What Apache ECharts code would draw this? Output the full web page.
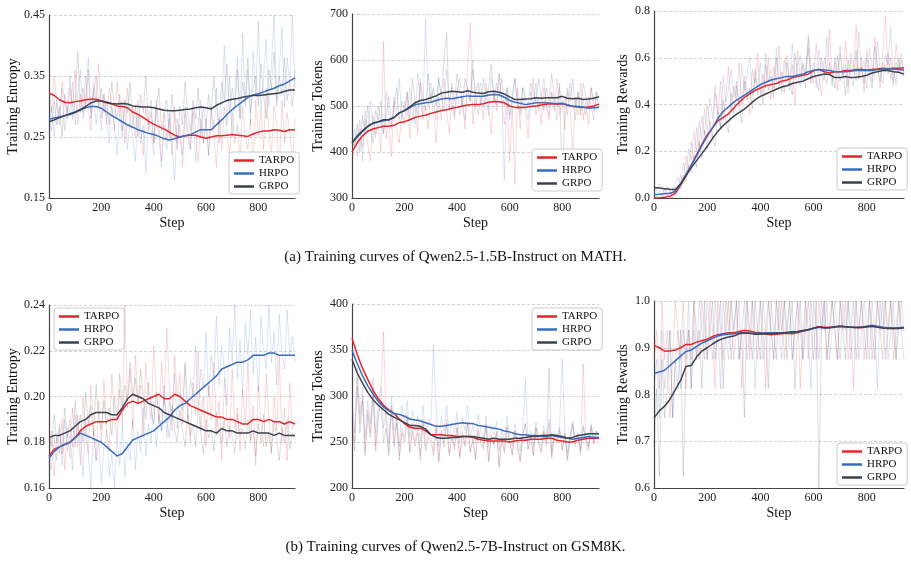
<!DOCTYPE html>
<html>
<head>
<meta charset="utf-8">
<script src="https://cdn.jsdelivr.net/npm/echarts@6/dist/echarts.min.js"></script>
<style>
  html, body { margin: 0; padding: 0; background: #fff; }
  #chart { width: 911px; height: 561px; }
</style>
</head>
<body>
<div id="chart"></div>
<script>
// step axis: smoothed curves every 20 steps, raw logs every 10 steps
const smoothSteps = Array.from({ length: 48 }, (_, i) => i * 20);
const rawSteps = Array.from({ length: 95 }, (_, i) => i * 10);
const methods = ["TARPO", "HRPO", "GRPO"];
const xTicks = [0, 200, 400, 600, 800];

// (a) Qwen2.5-1.5B-Instruct on MATH — entropy
const mathEntropyTarpo = [0.322,0.318,0.311,0.307,0.306,0.308,0.309,0.311,0.312,0.312,0.309,0.306,0.304,0.301,0.300,0.298,0.291,0.287,0.282,0.276,0.271,0.267,0.263,0.258,0.253,0.250,0.252,0.253,0.253,0.250,0.248,0.250,0.252,0.252,0.253,0.254,0.253,0.252,0.251,0.255,0.258,0.260,0.260,0.262,0.261,0.259,0.262,0.262];
const mathEntropyHrpo = [0.279,0.281,0.283,0.285,0.287,0.290,0.294,0.298,0.300,0.300,0.297,0.291,0.285,0.280,0.275,0.270,0.266,0.262,0.259,0.256,0.254,0.251,0.247,0.245,0.247,0.250,0.252,0.254,0.258,0.262,0.262,0.262,0.270,0.278,0.287,0.295,0.302,0.308,0.315,0.319,0.321,0.324,0.327,0.330,0.334,0.337,0.342,0.347];
const mathEntropyGrpo = [0.275,0.278,0.282,0.285,0.288,0.291,0.295,0.300,0.306,0.309,0.309,0.307,0.305,0.304,0.305,0.304,0.301,0.300,0.299,0.299,0.298,0.296,0.294,0.293,0.293,0.294,0.295,0.296,0.298,0.299,0.298,0.296,0.302,0.306,0.310,0.312,0.313,0.315,0.317,0.318,0.318,0.319,0.320,0.321,0.322,0.325,0.327,0.327];
const mathEntropyTarpoRaw = [0.33,0.29,0.35,0.30,0.27,0.34,0.31,0.28,0.33,0.30,0.36,0.27,0.32,0.29,0.35,0.30,0.26,0.34,0.31,0.37,0.28,0.32,0.27,0.33,0.30,0.26,0.34,0.29,0.31,0.24,0.33,0.28,0.30,0.25,0.31,0.27,0.22,0.30,0.26,0.29,0.24,0.31,0.27,0.21,0.29,0.25,0.28,0.22,0.30,0.24,0.27,0.20,0.29,0.25,0.23,0.30,0.26,0.21,0.28,0.24,0.27,0.22,0.29,0.25,0.20,0.28,0.23,0.30,0.26,0.22,0.29,0.24,0.27,0.21,0.30,0.25,0.23,0.28,0.20,0.31,0.25,0.29,0.23,0.33,0.26,0.22,0.30,0.27,0.19,0.31,0.24,0.29,0.26,0.21,0.28];
const mathEntropyHrpoRaw = [0.27,0.30,0.25,0.31,0.28,0.33,0.26,0.30,0.29,0.34,0.27,0.32,0.36,0.28,0.31,0.38,0.29,0.33,0.27,0.31,0.26,0.32,0.28,0.24,0.30,0.27,0.22,0.29,0.25,0.31,0.23,0.28,0.25,0.21,0.29,0.24,0.27,0.19,0.28,0.26,0.22,0.30,0.25,0.20,0.27,0.23,0.29,0.24,0.18,0.28,0.25,0.22,0.30,0.26,0.23,0.29,0.21,0.27,0.31,0.24,0.28,0.22,0.30,0.26,0.33,0.24,0.29,0.40,0.27,0.35,0.25,0.31,0.38,0.28,0.42,0.30,0.36,0.27,0.39,0.32,0.44,0.29,0.35,0.41,0.30,0.37,0.45,0.31,0.36,0.43,0.30,0.38,0.34,0.45,0.33];
const mathEntropyGrpoRaw = [0.28,0.26,0.31,0.27,0.30,0.25,0.32,0.29,0.35,0.28,0.31,0.39,0.29,0.33,0.30,0.36,0.28,0.32,0.35,0.30,0.33,0.29,0.31,0.27,0.34,0.30,0.28,0.32,0.26,0.31,0.29,0.34,0.27,0.30,0.25,0.32,0.29,0.35,0.27,0.31,0.24,0.30,0.33,0.26,0.29,0.31,0.25,0.32,0.28,0.23,0.30,0.27,0.34,0.29,0.26,0.31,0.28,0.33,0.25,0.30,0.27,0.32,0.29,0.35,0.30,0.27,0.34,0.31,0.37,0.29,0.33,0.30,0.36,0.28,0.34,0.31,0.38,0.29,0.33,0.35,0.30,0.37,0.32,0.28,0.36,0.33,0.39,0.30,0.35,0.32,0.38,0.31,0.34,0.30,0.36];

// (a) MATH — tokens
const mathTokensTarpo = [400,420,435,445,450,453,456,456,458,464,466,470,475,478,480,484,487,490,492,495,497,500,502,503,503,505,508,510,509,507,500,497,497,497,499,500,502,504,505,504,505,502,499,498,497,498,500,504];
const mathTokensHrpo = [420,432,445,455,462,465,468,470,475,485,490,496,503,505,507,508,512,515,517,516,518,520,522,521,521,521,524,525,524,519,512,508,506,503,505,507,507,507,506,505,506,502,500,499,498,495,496,497];
const mathTokensGrpo = [420,435,446,456,463,466,470,470,475,485,490,498,507,512,514,518,522,528,530,532,531,530,533,530,528,527,531,532,530,526,520,514,514,515,516,518,517,518,518,518,521,517,516,517,514,515,517,520];
const mathTokensTarpoRaw = [370,430,390,450,410,470,420,380,480,440,460,400,640,430,470,390,510,450,420,490,460,530,430,480,510,440,560,470,500,450,530,480,420,520,470,560,490,440,510,470,540,480,520,450,590,680,460,530,480,520,470,550,500,440,530,490,570,510,460,520,380,500,330,540,450,520,490,430,510,560,480,520,460,540,500,470,530,490,560,480,510,450,530,490,400,520,480,550,470,510,460,540,490,520,500];
const mathTokensHrpoRaw = [400,450,420,470,380,490,440,510,460,430,500,470,440,530,480,450,520,490,560,470,510,480,540,500,460,570,510,480,690,500,550,510,470,560,520,490,580,510,540,480,530,560,500,470,540,510,600,490,530,550,500,520,480,560,530,500,570,520,340,540,470,510,560,500,480,540,510,470,530,500,550,490,520,560,500,480,530,510,470,540,500,520,480,550,510,470,530,490,510,480,520,500,470,530,495];
const mathTokensGrpoRaw = [430,410,460,400,480,440,500,450,420,490,470,510,440,480,520,460,500,540,470,510,490,530,470,560,510,480,550,520,490,570,510,540,500,560,520,600,660,490,550,510,570,530,500,560,540,510,580,530,550,500,560,520,540,590,510,550,520,560,500,540,480,520,560,510,490,540,520,500,550,530,510,560,520,490,540,510,570,520,500,550,320,490,540,510,560,500,530,480,550,520,500,540,510,530,520];

// (a) MATH — rewards
const mathRewardsTarpo = [0.0,0.0,0.003,0.008,0.02,0.055,0.095,0.14,0.185,0.23,0.27,0.30,0.33,0.345,0.36,0.385,0.41,0.43,0.445,0.46,0.47,0.48,0.485,0.49,0.50,0.505,0.515,0.52,0.525,0.53,0.545,0.55,0.54,0.535,0.54,0.54,0.545,0.545,0.55,0.55,0.548,0.55,0.552,0.555,0.553,0.555,0.555,0.557];
const mathRewardsHrpo = [0.015,0.016,0.018,0.02,0.028,0.06,0.10,0.14,0.18,0.225,0.265,0.30,0.34,0.37,0.39,0.41,0.425,0.44,0.455,0.47,0.485,0.495,0.505,0.51,0.515,0.52,0.52,0.525,0.53,0.54,0.545,0.55,0.548,0.545,0.54,0.54,0.54,0.542,0.545,0.545,0.545,0.545,0.55,0.552,0.553,0.552,0.55,0.548];
const mathRewardsGrpo = [0.045,0.043,0.04,0.037,0.035,0.06,0.095,0.13,0.16,0.19,0.22,0.255,0.285,0.31,0.33,0.35,0.365,0.38,0.40,0.42,0.435,0.445,0.455,0.465,0.475,0.48,0.49,0.495,0.50,0.51,0.52,0.525,0.53,0.528,0.515,0.515,0.52,0.515,0.517,0.52,0.525,0.535,0.54,0.545,0.545,0.54,0.538,0.53];
const mathRewardsTarpoRaw = [0.0,0.01,0.0,0.02,0.0,0.01,0.03,0.0,0.05,0.02,0.10,0.06,0.18,0.12,0.24,0.15,0.30,0.22,0.35,0.27,0.40,0.31,0.25,0.45,0.36,0.50,0.33,0.44,0.56,0.38,0.48,0.42,0.58,0.40,0.52,0.46,0.36,0.55,0.49,0.62,0.44,0.53,0.47,0.60,0.42,0.56,0.50,0.65,0.45,0.55,0.61,0.48,0.57,0.40,0.63,0.52,0.58,0.47,0.70,0.54,0.49,0.66,0.52,0.44,0.60,0.55,0.72,0.50,0.58,0.46,0.62,0.53,0.67,0.48,0.59,0.55,0.74,0.51,0.60,0.45,0.63,0.56,0.50,0.69,0.57,0.47,0.62,0.78,0.53,0.60,0.48,0.66,0.55,0.59,0.52];
const mathRewardsHrpoRaw = [0.02,0.0,0.03,0.01,0.04,0.02,0.0,0.03,0.06,0.09,0.05,0.15,0.10,0.21,0.16,0.28,0.20,0.33,0.25,0.38,0.29,0.43,0.34,0.48,0.37,0.30,0.52,0.41,0.47,0.55,0.43,0.50,0.39,0.57,0.46,0.53,0.60,0.44,0.51,0.48,0.58,0.45,0.62,0.50,0.55,0.47,0.64,0.52,0.49,0.59,0.53,0.46,0.66,0.51,0.57,0.61,0.49,0.55,0.68,0.52,0.58,0.47,0.63,0.54,0.50,0.69,0.56,0.48,0.60,0.53,0.65,0.51,0.57,0.45,0.62,0.58,0.50,0.71,0.54,0.59,0.47,0.64,0.56,0.52,0.67,0.55,0.49,0.61,0.57,0.73,0.50,0.58,0.54,0.62,0.53];
const mathRewardsGrpoRaw = [0.05,0.03,0.06,0.04,0.02,0.05,0.03,0.04,0.02,0.06,0.04,0.10,0.07,0.14,0.11,0.18,0.13,0.24,0.17,0.29,0.21,0.33,0.26,0.22,0.37,0.30,0.42,0.33,0.28,0.45,0.36,0.48,0.39,0.32,0.50,0.42,0.47,0.38,0.55,0.44,0.49,0.40,0.57,0.46,0.52,0.43,0.60,0.48,0.54,0.45,0.58,0.50,0.44,0.62,0.52,0.48,0.57,0.53,0.64,0.49,0.55,0.51,0.46,0.60,0.53,0.49,0.58,0.52,0.47,0.61,0.50,0.55,0.44,0.59,0.52,0.48,0.63,0.51,0.56,0.49,0.60,0.53,0.47,0.65,0.55,0.50,0.58,0.54,0.62,0.51,0.56,0.49,0.60,0.53,0.52];

// (b) Qwen2.5-7B-Instruct on GSM8K — entropy
const gsmEntropyTarpo = [0.174,0.177,0.178,0.179,0.180,0.182,0.185,0.187,0.188,0.189,0.189,0.189,0.190,0.190,0.194,0.197,0.198,0.197,0.198,0.199,0.200,0.201,0.199,0.199,0.201,0.200,0.198,0.196,0.195,0.194,0.193,0.192,0.191,0.191,0.190,0.190,0.189,0.188,0.188,0.190,0.190,0.189,0.190,0.189,0.189,0.188,0.189,0.188];
const gsmEntropyHrpo = [0.173,0.176,0.178,0.179,0.180,0.182,0.184,0.183,0.182,0.181,0.180,0.178,0.176,0.174,0.175,0.178,0.181,0.182,0.183,0.184,0.185,0.187,0.189,0.191,0.194,0.196,0.197,0.199,0.201,0.203,0.205,0.207,0.209,0.212,0.213,0.214,0.215,0.215,0.216,0.218,0.218,0.218,0.219,0.219,0.218,0.218,0.218,0.218];
const gsmEntropyGrpo = [0.182,0.183,0.183,0.184,0.185,0.187,0.189,0.190,0.192,0.193,0.193,0.193,0.192,0.192,0.195,0.199,0.201,0.200,0.199,0.197,0.196,0.195,0.193,0.192,0.191,0.190,0.189,0.188,0.187,0.186,0.185,0.185,0.184,0.186,0.185,0.185,0.184,0.184,0.184,0.185,0.184,0.184,0.184,0.183,0.184,0.183,0.183,0.183];
const gsmEntropyTarpoRaw = [0.170,0.185,0.165,0.182,0.175,0.190,0.168,0.186,0.173,0.195,0.178,0.192,0.170,0.200,0.183,0.175,0.205,0.188,0.172,0.198,0.180,0.207,0.185,0.176,0.210,0.192,0.182,0.203,0.188,0.240,0.195,0.212,0.186,0.218,0.197,0.205,0.182,0.215,0.200,0.190,0.222,0.203,0.188,0.215,0.196,0.230,0.205,0.185,0.218,0.200,0.210,0.188,0.214,0.195,0.180,0.206,0.192,0.220,0.185,0.200,0.178,0.205,0.190,0.215,0.183,0.198,0.172,0.208,0.190,0.182,0.212,0.186,0.195,0.176,0.203,0.188,0.215,0.180,0.196,0.170,0.205,0.188,0.178,0.210,0.192,0.175,0.200,0.185,0.218,0.180,0.195,0.172,0.206,0.186,0.190];
const gsmEntropyHrpoRaw = [0.175,0.168,0.182,0.172,0.186,0.170,0.190,0.176,0.183,0.168,0.192,0.178,0.186,0.165,0.190,0.175,0.160,0.185,0.172,0.180,0.162,0.178,0.185,0.165,0.175,0.160,0.182,0.170,0.188,0.165,0.180,0.172,0.190,0.168,0.185,0.176,0.195,0.174,0.188,0.180,0.198,0.178,0.192,0.185,0.205,0.182,0.198,0.190,0.210,0.186,0.202,0.194,0.215,0.190,0.208,0.200,0.222,0.195,0.212,0.204,0.228,0.200,0.218,0.208,0.235,0.205,0.222,0.212,0.196,0.230,0.215,0.240,0.208,0.225,0.200,0.232,0.218,0.238,0.210,0.226,0.202,0.235,0.220,0.212,0.240,0.215,0.228,0.205,0.236,0.220,0.212,0.238,0.218,0.226,0.215];
const gsmEntropyGrpoRaw = [0.185,0.178,0.192,0.180,0.188,0.175,0.195,0.182,0.190,0.178,0.198,0.185,0.192,0.180,0.202,0.188,0.196,0.183,0.205,0.190,0.186,0.198,0.188,0.195,0.183,0.200,0.190,0.210,0.195,0.205,0.198,0.215,0.200,0.208,0.196,0.212,0.200,0.190,0.206,0.195,0.188,0.202,0.192,0.185,0.200,0.190,0.182,0.196,0.186,0.180,0.194,0.185,0.178,0.192,0.183,0.188,0.178,0.195,0.184,0.175,0.190,0.182,0.186,0.176,0.193,0.184,0.180,0.190,0.178,0.187,0.182,0.175,0.192,0.183,0.186,0.177,0.190,0.181,0.185,0.174,0.188,0.180,0.192,0.178,0.184,0.176,0.189,0.182,0.172,0.186,0.180,0.190,0.177,0.184,0.181];

// (b) GSM8K — tokens
const gsmTokensTarpo = [363,345,330,318,306,297,290,285,281,275,270,266,265,265,262,258,258,258,257,257,256,256,256,255,253,252,251,251,251,251,250,251,252,252,253,253,253,254,254,252,251,250,250,252,253,254,254,254];
const gsmTokensHrpo = [350,335,322,311,302,294,288,284,281,280,278,275,274,273,271,269,267,267,268,269,270,271,270,270,268,267,266,265,264,262,261,259,258,258,257,257,256,256,257,256,255,254,253,254,255,256,255,255];
const gsmTokensGrpo = [340,325,314,304,296,290,285,280,277,274,271,268,268,267,264,258,255,254,254,255,255,256,256,256,255,254,253,254,253,253,253,254,254,255,256,256,257,257,258,257,256,254,255,257,258,259,259,259];
const gsmTokensTarpoRaw = [290,250,320,270,300,240,285,260,310,245,280,300,370,270,240,290,250,275,235,265,255,280,240,270,250,265,235,275,245,260,255,240,270,230,262,250,275,238,258,245,268,235,260,248,272,240,255,232,265,250,245,270,230,258,248,262,225,255,240,268,250,236,262,245,228,258,270,242,255,235,265,248,238,260,245,270,232,255,248,262,240,258,230,252,268,245,255,236,335,250,240,265,248,258,252];
const gsmTokensHrpoRaw = [300,260,330,280,310,255,295,270,320,260,290,310,265,285,250,300,262,280,245,290,270,295,255,285,262,278,250,290,258,275,268,355,285,245,278,262,290,255,272,260,282,250,276,262,290,255,270,248,280,262,255,278,245,268,258,272,240,265,250,278,258,245,270,252,240,265,318,250,262,245,272,255,246,268,252,275,240,262,255,268,340,262,238,258,272,250,260,242,268,255,245,270,252,262,256];
const gsmTokensGrpoRaw = [280,240,310,260,295,235,280,255,300,240,275,295,250,265,235,285,245,270,230,260,250,275,238,262,245,260,230,270,240,255,250,235,265,228,258,245,270,235,256,242,265,232,258,245,270,238,252,230,262,248,242,268,228,256,246,260,222,252,238,266,250,236,262,245,230,258,270,242,256,236,266,250,240,262,248,330,235,258,250,265,242,260,232,255,270,248,258,240,266,252,244,268,250,262,258];

// (b) GSM8K — rewards
const gsmRewardsTarpo = [0.905,0.900,0.893,0.893,0.895,0.900,0.907,0.907,0.912,0.915,0.918,0.924,0.928,0.930,0.932,0.932,0.935,0.937,0.936,0.933,0.932,0.929,0.928,0.929,0.930,0.931,0.930,0.932,0.936,0.938,0.942,0.945,0.944,0.944,0.945,0.946,0.945,0.944,0.944,0.943,0.945,0.946,0.945,0.943,0.942,0.941,0.942,0.943];
const gsmRewardsHrpo = [0.845,0.848,0.852,0.862,0.872,0.882,0.892,0.895,0.903,0.910,0.915,0.920,0.925,0.928,0.929,0.930,0.932,0.932,0.931,0.931,0.931,0.932,0.932,0.932,0.932,0.933,0.933,0.934,0.936,0.938,0.941,0.944,0.942,0.943,0.944,0.946,0.945,0.944,0.944,0.944,0.946,0.948,0.946,0.944,0.943,0.942,0.943,0.944];
const gsmRewardsGrpo = [0.750,0.765,0.775,0.790,0.810,0.830,0.860,0.862,0.880,0.893,0.900,0.908,0.915,0.920,0.923,0.925,0.930,0.932,0.931,0.929,0.929,0.930,0.930,0.931,0.931,0.932,0.934,0.935,0.937,0.939,0.942,0.945,0.943,0.943,0.945,0.946,0.945,0.944,0.943,0.944,0.945,0.946,0.944,0.942,0.941,0.941,0.941,0.943];
const gsmRewardsTarpoRaw = [0.875,0.9375,0.8125,1.0,0.875,0.9375,0.75,0.875,1.0,0.9375,0.875,1.0,0.8125,0.9375,0.875,1.0,0.9375,0.875,1.0,0.9375,0.875,1.0,0.9375,0.8125,1.0,0.9375,0.875,1.0,0.9375,1.0,0.875,0.9375,1.0,0.8125,0.9375,1.0,0.875,1.0,0.9375,0.875,1.0,0.9375,0.8125,1.0,0.9375,0.875,1.0,0.9375,1.0,0.875,0.9375,1.0,0.875,0.9375,1.0,0.8125,0.9375,1.0,0.875,1.0,0.9375,0.875,1.0,0.9375,1.0,0.875,0.9375,1.0,0.9375,0.875,1.0,0.9375,1.0,0.875,0.9375,0.8125,1.0,0.9375,1.0,0.875,0.9375,1.0,0.875,0.9375,1.0,0.9375,0.875,1.0,0.9375,1.0,0.875,0.9375,1.0,0.9375,0.875];
const gsmRewardsHrpoRaw = [0.8125,0.875,0.75,0.9375,0.8125,0.875,0.9375,0.75,0.875,0.9375,0.8125,0.9375,0.875,1.0,0.8125,0.9375,0.875,1.0,0.9375,0.875,1.0,0.9375,0.875,1.0,0.9375,0.8125,1.0,0.9375,0.875,1.0,0.9375,1.0,0.875,0.9375,1.0,0.875,0.9375,1.0,0.8125,0.9375,1.0,0.875,0.9375,1.0,0.9375,0.875,1.0,0.9375,0.875,1.0,0.9375,1.0,0.875,0.9375,1.0,0.9375,0.875,1.0,0.9375,0.8125,1.0,0.9375,0.875,1.0,0.9375,1.0,0.875,0.9375,1.0,0.9375,0.875,1.0,0.9375,1.0,0.875,0.9375,1.0,0.875,0.9375,1.0,0.9375,0.875,1.0,0.9375,0.8125,1.0,0.9375,1.0,0.875,0.9375,1.0,0.875,0.9375,1.0,0.9375];
const gsmRewardsGrpoRaw = [0.6875,0.8125,0.625,0.875,0.75,0.8125,0.9375,0.75,0.875,0.8125,0.9375,0.625,0.875,0.9375,0.8125,1.0,0.875,0.9375,0.8125,1.0,0.875,0.9375,1.0,0.875,0.9375,1.0,0.8125,0.9375,1.0,0.875,0.9375,1.0,0.875,0.9375,0.75,1.0,0.9375,0.875,1.0,0.9375,0.875,1.0,0.9375,0.8125,1.0,0.9375,0.875,1.0,0.9375,1.0,0.875,0.9375,1.0,0.8125,0.9375,1.0,0.875,0.9375,1.0,0.9375,0.875,1.0,0.6,0.9375,1.0,0.875,0.9375,1.0,0.9375,0.875,1.0,0.9375,0.875,1.0,0.9375,1.0,0.875,0.9375,1.0,0.9375,0.875,1.0,0.9375,0.875,1.0,0.9375,1.0,0.875,0.9375,1.0,0.9375,0.875,1.0,0.9375,0.9375];

const captions = [
  "(a) Training curves of Qwen2.5-1.5B-Instruct on MATH.",
  "(b) Training curves of Qwen2.5-7B-Instruct on GSM8K."
];

const colors = { TARPO: "#e4262b", HRPO: "#3b6cc0", GRPO: "#3c4150" };
const FONT = "Liberation Serif";

const panels = [
  { grid: { left: 49, top: 15, width: 246, height: 183 }, min: 0.15, max: 0.45, interval: 0.1, dec: 2, name: "Training Entropy", gap: 28,
    smooth: [mathEntropyTarpo, mathEntropyHrpo, mathEntropyGrpo], raw: [mathEntropyTarpoRaw, mathEntropyHrpoRaw, mathEntropyGrpoRaw],
    legend: { left: 229, top: 152 } },
  { grid: { left: 352, top: 14, width: 247, height: 184 }, min: 300, max: 700, interval: 100, dec: 0, name: "Training Tokens", gap: 27,
    smooth: [mathTokensTarpo, mathTokensHrpo, mathTokensGrpo], raw: [mathTokensTarpoRaw, mathTokensHrpoRaw, mathTokensGrpoRaw],
    legend: { left: 532, top: 149 } },
  { grid: { left: 654, top: 11, width: 250, height: 187 }, min: 0, max: 0.8, interval: 0.2, dec: 1, name: "Training Rewards", gap: 24,
    smooth: [mathRewardsTarpo, mathRewardsHrpo, mathRewardsGrpo], raw: [mathRewardsTarpoRaw, mathRewardsHrpoRaw, mathRewardsGrpoRaw],
    legend: { left: 837, top: 148 } },
  { grid: { left: 49, top: 305, width: 246, height: 183 }, min: 0.16, max: 0.24, interval: 0.02, dec: 2, name: "Training Entropy", gap: 28,
    smooth: [gsmEntropyTarpo, gsmEntropyHrpo, gsmEntropyGrpo], raw: [gsmEntropyTarpoRaw, gsmEntropyHrpoRaw, gsmEntropyGrpoRaw],
    legend: { left: 54, top: 308 } },
  { grid: { left: 352, top: 304, width: 247, height: 184 }, min: 200, max: 400, interval: 50, dec: 0, name: "Training Tokens", gap: 27,
    smooth: [gsmTokensTarpo, gsmTokensHrpo, gsmTokensGrpo], raw: [gsmTokensTarpoRaw, gsmTokensHrpoRaw, gsmTokensGrpoRaw],
    legend: { left: 532, top: 308 } },
  { grid: { left: 654, top: 301, width: 250, height: 187 }, min: 0.6, max: 1.0, interval: 0.1, dec: 1, name: "Training Rewards", gap: 24,
    smooth: [gsmRewardsTarpo, gsmRewardsHrpo, gsmRewardsGrpo], raw: [gsmRewardsTarpoRaw, gsmRewardsHrpoRaw, gsmRewardsGrpoRaw],
    legend: { left: 837, top: 443 } }
];

function pairs(steps, vals) {
  return steps.map((s, i) => [s, vals[i]]);
}

const grid = [], xAxis = [], yAxis = [], legend = [], series = [];
panels.forEach((p, k) => {
  grid.push(p.grid);
  xAxis.push({
    type: "value", gridIndex: k, min: 0, max: 940, interval: 200,
    name: "Step", nameLocation: "middle", nameGap: 18,
    nameTextStyle: { fontFamily: FONT, fontSize: 14, color: "#111" },
    axisLine: { lineStyle: { color: "#444", width: 1.2 } },
    axisTick: { show: false },
    axisLabel: { fontFamily: FONT, fontSize: 12, color: "#222", margin: 4, showMaxLabel: false },
    splitLine: { show: false }
  });
  yAxis.push({
    type: "value", gridIndex: k, min: p.min, max: p.max, interval: p.interval,
    name: p.name, nameLocation: "middle", nameGap: p.gap,
    nameTextStyle: { fontFamily: FONT, fontSize: 14, color: "#111" },
    axisLine: { show: true, lineStyle: { color: "#444", width: 1.2 } },
    axisTick: { show: false },
    axisLabel: { fontFamily: FONT, fontSize: 12, color: "#222", margin: 4,
      formatter: (v) => v.toFixed(p.dec) },
    splitLine: { show: true, lineStyle: { color: "#c8c8c8", type: [3, 2], width: 0.8 } }
  });
  legend.push({
    left: p.legend.left, top: p.legend.top, orient: "vertical",
    data: methods, icon: "rect", itemWidth: 20, itemHeight: 2.5,
    itemGap: 2, padding: [3, 5, 2, 5],
    backgroundColor: "#fff", borderColor: "#ccc", borderWidth: 1, borderRadius: 3,
    textStyle: { fontFamily: FONT, fontSize: 11, color: "#111", lineHeight: 11 },
    selectedMode: false
  });
  methods.forEach((m, j) => {
    series.push({
      name: m + " raw", type: "line", xAxisIndex: k, yAxisIndex: k,
      data: pairs(rawSteps, p.raw[j]), symbol: "none", silent: true,
      lineStyle: { color: colors[m], width: 0.9, opacity: 0.2 }, z: 1
    });
  });
  methods.forEach((m, j) => {
    series.push({
      name: m, type: "line", xAxisIndex: k, yAxisIndex: k,
      data: pairs(smoothSteps, p.smooth[j]), symbol: "none", silent: true,
      color: colors[m],
      lineStyle: { color: colors[m], width: 1.5 }, z: 3
    });
  });
});

const chart = echarts.init(document.getElementById("chart"));
chart.setOption({
  animation: false,
  backgroundColor: "#fff",
  grid, xAxis, yAxis, legend, series,
  graphic: [
    { type: "text", left: "center", top: 250,
      style: { text: captions[0], fontFamily: FONT, fontSize: 15, fill: "#111" } },
    { type: "text", left: "center", top: 540,
      style: { text: captions[1], fontFamily: FONT, fontSize: 15, fill: "#111" } }
  ]
});
</script>
</body>
</html>
